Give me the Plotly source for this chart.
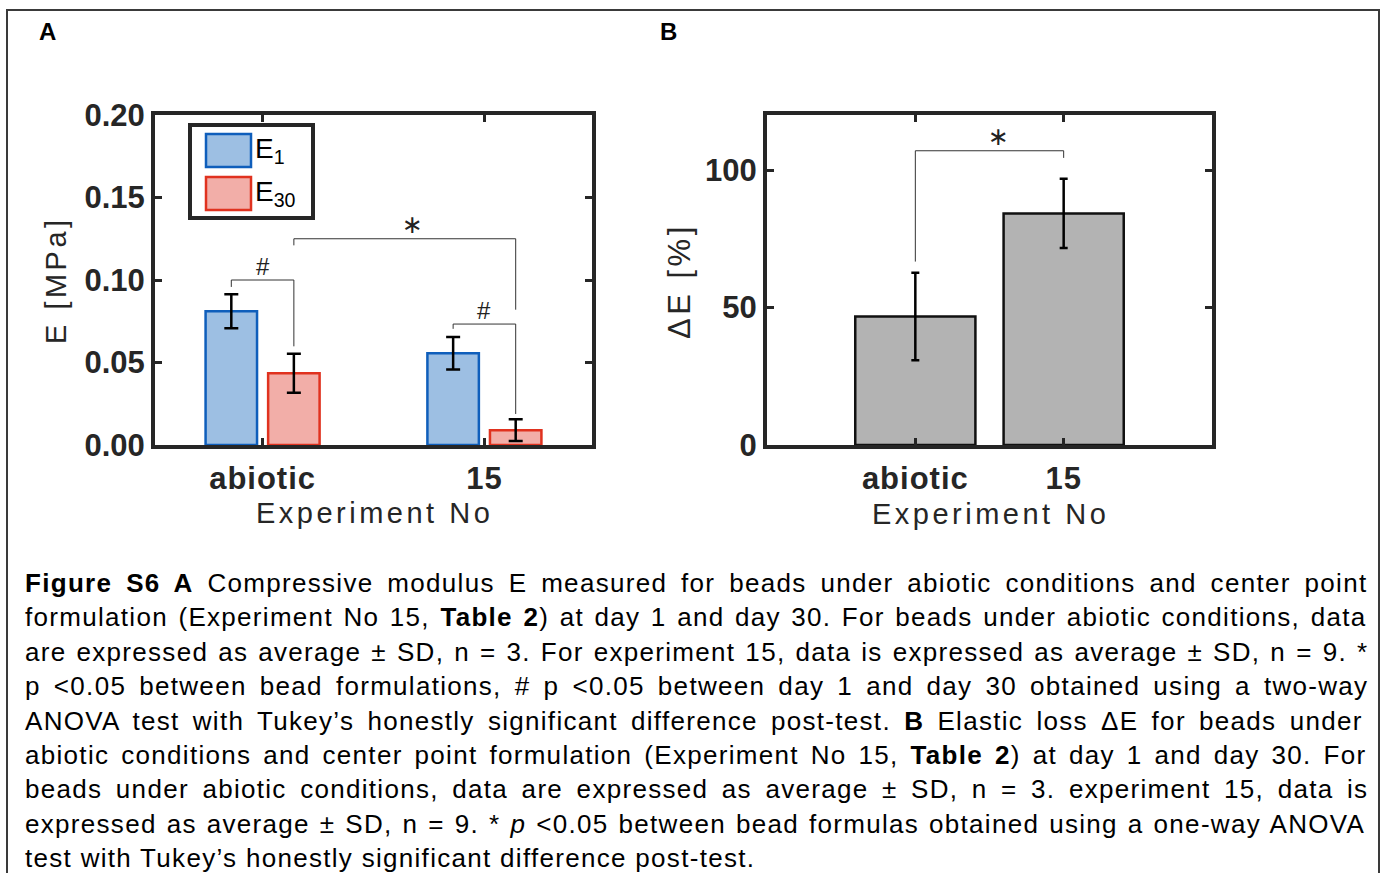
import re
import plotly.graph_objects as go

W, H = 1384, 873
FONT = "Liberation Sans, Arial, sans-serif"
AX = "#262626"

# ---------------- data ----------------
categories = ["abiotic", "15"]
x_pos = [1, 2]
E1 = [0.081, 0.0556]
E1_sd = [0.0103, 0.0098]
E30 = [0.0435, 0.009]
E30_sd = [0.0118, 0.0066]
dE = [46.7, 84.2]
dE_sd = [15.9, 12.6]
yA_ticks = [0, 0.05, 0.10, 0.15, 0.20]
yA_labels = ["0.00", "0.05", "0.10", "0.15", "0.20"]
yB_ticks = [0, 50, 100]
yB_labels = ["0", "50", "100"]

# significance brackets: (left bar, right bar, level, left leg end, right leg end, label)
sigA = [
    (("E1", 0), ("E30", 0), 0.100, 0.0958, 0.0598, "#"),
    (("E30", 0), ("E30", 1), 0.125, 0.121, 0.082, "∗"),
    (("E1", 1), ("E30", 1), 0.0733, 0.0704, 0.0188, "#"),
]
sigB = [
    (0, 1, 107.0, 66.7, 104.4, "∗"),
]

caption_lines = [
    "<b>Figure S6 A</b> Compressive modulus E measured for beads under abiotic conditions and center point",
    "formulation (Experiment No 15, <b>Table 2</b>) at day 1 and day 30. For beads under abiotic conditions, data",
    "are expressed as average ± SD, n = 3. For experiment 15, data is expressed as average ± SD, n = 9. *",
    "p <0.05 between bead formulations, # p <0.05 between day 1 and day 30 obtained using a two-way",
    "ANOVA test with Tukey’s honestly significant difference post-test. <b>B</b> Elastic loss ΔE for beads under",
    "abiotic conditions and center point formulation (Experiment No 15, <b>Table 2</b>) at day 1 and day 30. For",
    "beads under abiotic conditions, data are expressed as average ± SD, n = 3. experiment 15, data is",
    "expressed as average ± SD, n = 9. * <i>p</i> <0.05 between bead formulas obtained using a one-way ANOVA",
    "test with Tukey’s honestly significant difference post-test.",
]

# ---------------- geometry helpers ----------------
BAR_W = 0.232
SHIFT = 0.141
centers = {"E1": [x - SHIFT for x in x_pos], "E30": [x + SHIFT for x in x_pos]}


def px(x):
    return x / W


def py(y):
    return 1 - y / H


# Arial / Liberation Sans advance widths (1/1000 em)
REG = dict(zip("abcdefghijklmnopqrstuvwxyz",
               [556, 556, 500, 556, 556, 278, 556, 556, 222, 222, 500, 222, 833, 556, 556, 556, 556, 333, 500, 278,
                556, 500, 722, 500, 500, 500]))
REG.update(zip("ABCDEFGHIJKLMNOPQRSTUVWXYZ",
               [667, 667, 722, 722, 667, 611, 778, 722, 278, 500, 667, 556, 833, 722, 778, 667, 778, 722, 667, 611,
                722, 667, 944, 667, 667, 611]))
REG.update({str(d): 556 for d in range(10)})
REG.update({" ": 278, ".": 278, ",": 278, "(": 333, ")": 333, "*": 389, "#": 556, "<": 584, "=": 584,
            "±": 549, "-": 333, "’": 222, "Δ": 668, ":": 278})
BOLD = dict(zip("abcdefghijklmnopqrstuvwxyz",
                [556, 611, 556, 611, 556, 333, 611, 611, 278, 278, 556, 278, 889, 611, 611, 611, 611, 389, 556, 333,
                 611, 556, 778, 556, 556, 500]))
BOLD.update(zip("ABCDEFGHIJKLMNOPQRSTUVWXYZ",
                [722, 722, 722, 722, 667, 611, 778, 722, 278, 556, 722, 611, 833, 722, 778, 667, 778, 722, 667, 611,
                 722, 667, 944, 667, 667, 611]))
BOLD.update({str(d): 556 for d in range(10)})
BOLD.update({" ": 278})


def measure(html, size, ls):
    w, nsp, mode = 0.0, 0, "r"
    for part in re.split(r"(<[^>]+>)", html):
        if part.startswith("<"):
            if part == "<b>":
                mode = "b"
            elif part.startswith("</"):
                mode = "r"
            continue
        for ch in part:
            tbl = BOLD if mode == "b" else REG
            w += tbl.get(ch, 556) * size / 1000 + ls
            if ch == " ":
                nsp += 1
    return w, nsp


# ---------------- figure ----------------
fig = go.Figure()

fig.add_trace(go.Bar(
    x=x_pos, y=E1, width=BAR_W, offset=-SHIFT - BAR_W / 2, name="E1",
    marker=dict(color="#9DBFE3", line=dict(color="#0F5EBB", width=2.5)),
    error_y=dict(type="data", array=E1_sd, color="black", thickness=2.5, width=7),
    xaxis="x", yaxis="y", showlegend=False))
fig.add_trace(go.Bar(
    x=x_pos, y=E30, width=BAR_W, offset=SHIFT - BAR_W / 2, name="E30",
    marker=dict(color="#F2AEA8", line=dict(color="#E0321F", width=2.5)),
    error_y=dict(type="data", array=E30_sd, color="black", thickness=2.5, width=7),
    xaxis="x", yaxis="y", showlegend=False))
fig.add_trace(go.Bar(
    x=x_pos, y=dE, width=0.81, name="dE",
    marker=dict(color="#B3B3B3", line=dict(color="#111111", width=2.5)),
    error_y=dict(type="data", array=dE_sd, color="black", thickness=2.5, width=4),
    xaxis="x2", yaxis="y2", showlegend=False))

axis_common = dict(showline=True, linewidth=4, linecolor=AX, mirror="ticks", ticks="inside",
                   ticklen=7, tickwidth=3, tickcolor=AX, showgrid=False, zeroline=False,
                   tickfont=dict(family=FONT, size=31, color=AX, weight="bold"))

xt = ['<span style="letter-spacing:1px">%s</span>' % c for c in categories]

fig.update_layout(
    width=W, height=H, margin=dict(l=0, r=0, t=0, b=0, autoexpand=False),
    paper_bgcolor="white", plot_bgcolor="white", barmode="overlay",
    xaxis=dict(domain=[px(155), px(592)], range=[0.515, 2.485], tickvals=x_pos, ticktext=xt,
               anchor="y", ticklabelstandoff=3, **axis_common),
    yaxis=dict(domain=[py(445), py(115)], range=[0, 0.2], tickvals=yA_ticks, ticktext=yA_labels,
               anchor="x", ticklabelstandoff=0, **axis_common),
    xaxis2=dict(domain=[px(767), px(1212)], range=[0, 3], tickvals=x_pos, ticktext=xt,
                anchor="y2", ticklabelstandoff=3, **axis_common),
    yaxis2=dict(domain=[py(445), py(115)], range=[0, 120], tickvals=yB_ticks, ticktext=yB_labels,
                anchor="x2", ticklabelstandoff=0, **axis_common),
)

shapes = []
annotations = []

# outer frame
shapes.append(dict(type="rect", xref="paper", yref="paper", x0=px(7), x1=px(1379), y0=-0.05, y1=py(10),
                   line=dict(color="#3a3a3a", width=2), fillcolor="rgba(0,0,0,0)", layer="below"))

# significance brackets A
for (l, r, lvl, le, re_, lab) in sigA:
    xl = centers[l[0]][l[1]]
    xr = centers[r[0]][r[1]]
    shapes.append(dict(type="path", xref="x", yref="y",
                       path=f"M {xl},{le} L {xl},{lvl} L {xr},{lvl} L {xr},{re_}",
                       line=dict(color="#333333", width=1)))
    is_star = lab == "∗"
    annotations.append(dict(x=(xl + xr) / 2, y=lvl, xref="x", yref="y", text=lab, showarrow=False,
                            yanchor="middle", yshift=14, xshift=8 if is_star else 0,
                            font=dict(family="DejaVu Sans" if is_star else FONT, size=25 if is_star else 24,
                                      color="#222222")))
for (l, r, lvl, le, re_, lab) in sigB:
    xl, xr = x_pos[l], x_pos[r]
    shapes.append(dict(type="path", xref="x2", yref="y2",
                       path=f"M {xl},{le} L {xl},{lvl} L {xr},{lvl} L {xr},{re_}",
                       line=dict(color="#333333", width=1)))
    annotations.append(dict(x=(xl + xr) / 2, y=lvl, xref="x2", yref="y2", text=lab, showarrow=False,
                            yanchor="middle", yshift=14, xshift=9,
                            font=dict(family="DejaVu Sans", size=25, color="#222222")))

# legend (drawn)
shapes.append(dict(type="rect", xref="paper", yref="paper", x0=px(190), x1=px(313), y0=py(218), y1=py(125),
                   line=dict(color=AX, width=4), fillcolor="white"))
shapes.append(dict(type="rect", xref="paper", yref="paper", x0=px(206), x1=px(251), y0=py(167), y1=py(134),
                   line=dict(color="#0F5EBB", width=2.5), fillcolor="#9DBFE3"))
shapes.append(dict(type="rect", xref="paper", yref="paper", x0=px(206), x1=px(251), y0=py(210), y1=py(177),
                   line=dict(color="#E0321F", width=2.5), fillcolor="#F2AEA8"))
for txt, yc in [("E<sub>1</sub>", 150), ("E<sub>30</sub>", 193)]:
    annotations.append(dict(x=px(253), y=py(yc), xref="paper", yref="paper", text=txt, showarrow=False,
                            xanchor="left", yanchor="middle", font=dict(family=FONT, size=28, color="black")))

# axis titles
TS = "letter-spacing:3.5px"
for txt, xc, yc, ang in [("E [MPa]", 56, 280, -90), ("ΔE [%]", 680, 281, -90),
                         ("Experiment No", 374, 513, 0), ("Experiment No", 990, 514, 0)]:
    annotations.append(dict(x=px(xc), y=py(yc), xref="paper", yref="paper", showarrow=False,
                            text=f'<span style="{TS}">{txt}</span>', textangle=ang,
                            xanchor="center", yanchor="middle",
                            font=dict(family=FONT, size=29 if txt != "ΔE [%]" else 31, color=AX)))

# panel labels
for txt, xc in [("A", 48), ("B", 668)]:
    annotations.append(dict(x=px(xc), y=py(32), xref="paper", yref="paper", text=f"<b>{txt}</b>",
                            showarrow=False, xanchor="center", yanchor="middle",
                            font=dict(family=FONT, size=24, color="black")))

# caption (justified via word-spacing)
CAP_SIZE = 26
CAP_LS = 1.3
LEFT, RIGHT = 24, 1366
for i, line in enumerate(caption_lines):
    wnat, nsp = measure(line, CAP_SIZE, CAP_LS)
    last = i == len(caption_lines) - 1
    ws = 0 if last else (RIGHT - LEFT + CAP_LS - wnat) / max(nsp, 1)
    annotations.append(dict(
        x=px(LEFT), y=py(583 + i * 34.4), xref="paper", yref="paper", showarrow=False,
        xanchor="left", yanchor="middle", align="left", borderpad=0,
        text=f'<span style="letter-spacing:{CAP_LS}px;word-spacing:{ws:.2f}px">{line}</span>',
        font=dict(family=FONT, size=CAP_SIZE, color="black")))

fig.update_layout(shapes=shapes, annotations=annotations)
fig.write_html(
    "out.html",
    config={"displayModeBar": False},
    post_script="document.body.style.margin='0';document.body.style.overflow='hidden';",
)
